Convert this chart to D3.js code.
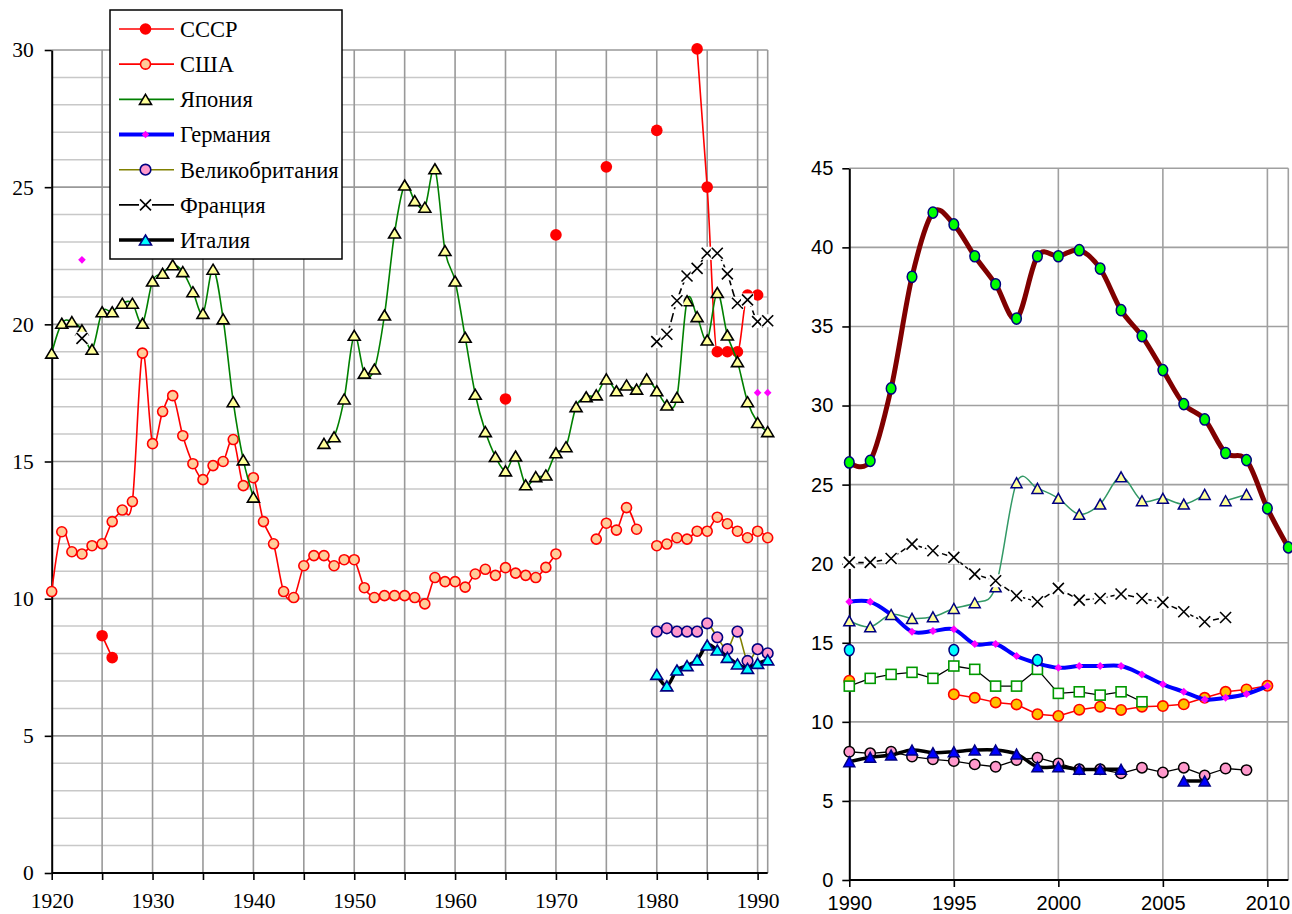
<!DOCTYPE html>
<html><head><meta charset="utf-8">
<script src="https://cdn.jsdelivr.net/npm/d3@7"></script>
<style>body{margin:0;background:#fff} svg{display:block}</style>
</head><body>
<svg id="c" width="1292" height="914"></svg>
<script>
// ---------- DATA: left panel (1920–1991) ----------
const ussrL = [[1925,8.65],[1926,7.85],[1965,17.28],[1970,23.26],[1975,25.74],[1980,27.07],
  [1984,30.04],[1985,25.0],[1986,19.0],[1987,19.0],[1988,19.0],[1989,21.07],[1990,21.07]];
const usaL = [[1920,10.26],[1921,12.44],[1922,11.71],[1923,11.63],[1924,11.93],[1925,12.0],[1926,12.81],
  [1927,13.23],[1928,13.54],[1929,18.95],[1930,15.65],[1931,16.82],[1932,17.4],[1933,15.94],[1934,14.92],
  [1935,14.34],[1936,14.85],[1937,15.0],[1938,15.8],[1939,14.12],[1940,14.41],[1941,12.81],[1942,12.0],
  [1943,10.26],[1944,10.04],[1945,11.2],[1946,11.57],[1947,11.57],[1948,11.2],[1949,11.42],[1950,11.42],
  [1951,10.4],[1952,10.04],[1953,10.11],[1954,10.11],[1955,10.11],[1956,10.04],[1957,9.81],[1958,10.77],
  [1959,10.62],[1960,10.62],[1961,10.42],[1962,10.9],[1963,11.07],[1964,10.85],[1965,11.13],[1966,10.93],
  [1967,10.85],[1968,10.77],[1969,11.14],[1970,11.63],
  [1974,12.17],[1975,12.75],[1976,12.5],[1977,13.32],[1978,12.53],
  [1980,11.93],[1981,11.99],[1982,12.22],[1983,12.17],[1984,12.46],[1985,12.46],[1986,12.97],[1987,12.73],
  [1988,12.46],[1989,12.22],[1990,12.46],[1991,12.22]];
const japanL = [[1920,18.95],[1921,20.04],[1922,20.1],[1923,19.8],[1924,19.09],[1925,20.46],[1926,20.46],
  [1927,20.77],[1928,20.77],[1929,20.04],[1930,21.58],[1931,21.86],[1932,22.17],[1933,21.92],[1934,21.19],
  [1935,20.4],[1936,22.01],[1937,20.2],[1938,17.18],[1939,15.06],[1940,13.7],
  [1947,15.66],[1948,15.9],[1949,17.28],[1950,19.6],[1951,18.22],[1952,18.37],[1953,20.34],[1954,23.33],
  [1955,25.08],[1956,24.51],[1957,24.27],[1958,25.67],[1959,22.69],[1960,21.58],[1961,19.53],[1962,17.45],
  [1963,16.09],[1964,15.18],[1965,14.66],[1966,15.2],[1967,14.15],[1968,14.45],[1969,14.51],[1970,15.32],
  [1971,15.54],[1972,17.0],[1973,17.36],[1974,17.43],[1975,18.01],[1976,17.58],[1977,17.79],[1978,17.64],
  [1979,18.01],[1980,17.58],[1981,17.06],[1982,17.34],[1983,20.86],[1984,20.28],[1985,19.43],[1986,21.16],
  [1987,19.61],[1988,18.64],[1989,17.18],[1990,16.42],[1991,16.09]];
const germanyL = [[1923,22.35],[1990,17.51],[1991,17.51]];
const ukL = [[1980,8.8],[1981,8.92],[1982,8.8],[1983,8.8],[1984,8.8],[1985,9.1],[1986,8.59],[1987,8.16],
  [1988,8.8],[1989,7.73],[1990,8.16],[1991,8.01]];
const franceL = [[1923,19.49],[1980,19.37],[1981,19.64],[1982,20.86],[1983,21.76],[1984,22.04],[1985,22.59],
  [1986,22.59],[1987,21.84],[1988,20.77],[1989,20.89],[1990,20.1],[1991,20.13]];
const italyL = [[1980,7.24],[1981,6.82],[1982,7.4],[1983,7.56],[1984,7.77],[1985,8.31],[1986,8.13],
  [1987,7.86],[1988,7.62],[1989,7.46],[1990,7.64],[1991,7.77]];

// ---------- DATA: right panel (1990–2011) ----------
const redR = [[1990,26.4],[1991,26.5],[1992,31.08],[1993,38.14],[1994,42.2],[1995,41.45],[1996,39.44],
  [1997,37.67],[1998,35.5],[1999,39.44],[2000,39.44],[2001,39.82],[2002,38.66],[2003,36.03],[2004,34.39],
  [2005,32.24],[2006,30.09],[2007,29.12],[2008,27.0],[2009,26.55],[2010,23.5],[2011,21.03]];
const japanR = [[1990,16.39],[1991,16.01],[1992,16.79],[1993,16.54],[1994,16.64],[1995,17.17],[1996,17.53],
  [1997,18.54],[1998,25.12],[1999,24.76],[2000,24.13],[2001,23.12],[2002,23.77],[2003,25.49],[2004,23.98],
  [2005,24.13],[2006,23.77],[2007,24.38],[2008,23.98],[2009,24.38]];
const japanRBreaks = [2007];
const franceR = [[1990,20.08],[1991,20.08],[1992,20.33],[1993,21.24],[1994,20.82],[1995,20.4],[1996,19.34],
  [1997,18.92],[1998,17.97],[1999,17.59],[2000,18.44],[2001,17.7],[2002,17.8],[2003,18.08],[2004,17.8],
  [2005,17.55],[2006,16.96],[2007,16.33],[2008,16.6]];
const germanyR = [[1990,17.59],[1991,17.59],[1992,16.79],[1993,15.7],[1994,15.74],[1995,15.85],[1996,14.92],
  [1997,14.92],[1998,14.16],[1999,13.7],[2000,13.42],[2001,13.53],[2002,13.53],[2003,13.53],[2004,13.0],
  [2005,12.37],[2006,11.9],[2007,11.42],[2008,11.52],[2009,11.76],[2010,12.26]];
const cyanR = [[1990,14.54],[1995,14.54],[1999,13.9]];
const squaresR = [[1990,12.26],[1991,12.75],[1992,13.0],[1993,13.13],[1994,12.75],[1995,13.53],[1996,13.32],
  [1997,12.26],[1998,12.26],[1999,13.32],[2000,11.8],[2001,11.9],[2002,11.69],[2003,11.9],[2004,11.27]];
const usaR = [[1990,12.6],[1995,11.74],[1996,11.52],[1997,11.23],[1998,11.1],[1999,10.48],[2000,10.37],
  [2001,10.77],[2002,10.96],[2003,10.75],[2004,10.96],[2005,11.0],[2006,11.11],[2007,11.52],[2008,11.9],
  [2009,12.05],[2010,12.28]];
const pinkR = [[1990,8.11],[1991,8.01],[1992,8.11],[1993,7.8],[1994,7.63],[1995,7.52],[1996,7.31],[1997,7.16],
  [1998,7.58],[1999,7.73],[2000,7.37],[2001,7.0],[2002,7.0],[2003,6.74],[2004,7.1],[2005,6.8],[2006,7.1],
  [2007,6.61],[2008,7.05],[2009,6.95]];
const italyR = [[1990,7.48],[1991,7.76],[1992,7.9],[1993,8.22],[1994,8.05],[1995,8.11],[1996,8.22],[1997,8.22],
  [1998,7.96],[1999,7.16],[2000,7.16],[2001,7.0],[2002,7.0],[2003,7.0],[2006,6.26],[2007,6.26]];

// ---------- tick labels ----------
const leftYTicks = [0,5,10,15,20,25,30];
const leftXLabels = [1920,1930,1940,1950,1960,1970,1980,1990];
const rightYTicks = [0,5,10,15,20,25,30,35,40,45];
const rightXLabels = [1990,1995,2000,2005,2010];
const legendNames = ["СССР","США","Япония","Германия","Великобритания","Франция","Италия"];

// ---------- drawing ----------
const svg = d3.select("#c");
const serif = "'Liberation Serif','Times New Roman',serif";
const sans = "'Liberation Sans',Arial,sans-serif";

const xL = d3.scaleLinear().domain([1920,1991]).range([51.7,767.7]);
const yL = d3.scaleLinear().domain([0,30]).range([873,50]);
const xR = d3.scaleLinear().domain([1990,2011]).range([849.3,1288.3]);
const yR = d3.scaleLinear().domain([0,45]).range([880,168.3]);

function segments(pts, breaks) {
  breaks = breaks || [];
  const segs = []; let cur = [];
  pts.forEach((p,i) => {
    if (i > 0) {
      const prev = pts[i-1];
      if (p[0]-prev[0] > 1 || breaks.includes(prev[0])) { segs.push(cur); cur = []; }
    }
    cur.push(p);
  });
  if (cur.length) segs.push(cur);
  return segs;
}

function marker(g, m, x, y) {
  const t = m.type;
  if (t === "circle") {
    g.append("ellipse").attr("cx",x).attr("cy",y).attr("rx",m.rx||m.r).attr("ry",m.ry||m.r)
      .attr("fill",m.fill).attr("stroke",m.stroke||"none").attr("stroke-width",m.sw||1.5);
  } else if (t === "tri") {
    const w = m.w/2, h = m.h/2;
    g.append("path").attr("d",`M${x},${y-h}L${x+w},${y+h}L${x-w},${y+h}Z`)
      .attr("fill",m.fill).attr("stroke",m.stroke).attr("stroke-width",m.sw||1.5).attr("stroke-linejoin","miter");
  } else if (t === "diamond") {
    const s = m.s;
    g.append("path").attr("d",`M${x},${y-s}L${x+s},${y}L${x},${y+s}L${x-s},${y}Z`).attr("fill",m.fill);
  } else if (t === "square") {
    const s = m.s/2;
    g.append("rect").attr("x",x-s).attr("y",y-s).attr("width",2*s).attr("height",2*s)
      .attr("fill",m.fill).attr("stroke",m.stroke).attr("stroke-width",m.sw||1.5);
  } else if (t === "x") {
    const s = m.s/2;
    g.append("rect").attr("x",x-s-1).attr("y",y-s-1).attr("width",2*s+2).attr("height",2*s+2).attr("fill","#fff");
    g.append("path").attr("d",`M${x-s},${y-s}L${x+s},${y+s}M${x-s},${y+s}L${x+s},${y-s}`)
      .attr("stroke",m.stroke||"#000").attr("stroke-width",m.sw||1.6).attr("fill","none");
  }
}

function drawSeries(g, xs, ys, data, st) {
  const curve = st.smooth === "mono" ? d3.curveMonotoneX : (st.smooth ? d3.curveCardinal.tension(0) : d3.curveLinear);
  const line = d3.line().x(d=>xs(d[0])).y(d=>ys(d[1])).curve(curve);
  if (st.line) {
    segments(data, st.breaks).forEach(seg => {
      if (seg.length < 2) return;
      g.append("path").attr("d", line(seg)).attr("fill","none").attr("stroke",st.line)
        .attr("stroke-width",st.lw).attr("stroke-dasharray",st.dash||null).attr("stroke-linejoin","round");
    });
  }
  data.forEach(d => marker(g, st.m, xs(d[0]), ys(d[1])));
}

// ---- styles ----
const stUSSR = {line:"#ff0000", lw:1.6, smooth:"mono", m:{type:"circle", r:5.8, fill:"#ff0000"}};
const stUSA = {line:"#ff0000", lw:1.6, smooth:true, m:{type:"circle", r:5, fill:"#ffcc99", stroke:"#ff0000", sw:1.6}};
const stJapan = {line:"#008000", lw:1.6, smooth:true, m:{type:"tri", w:12, h:10, fill:"#ffff99", stroke:"#000", sw:1.6}};
const stGermanyL = {line:null, m:{type:"diamond", s:3.8, fill:"#ff00ff"}};
const stGermanyLeg = {line:"#0000ff", lw:4, m:{type:"diamond", s:3.8, fill:"#ff00ff"}};
const stUK = {line:"#808000", lw:1.6, smooth:true, m:{type:"circle", r:5.3, fill:"#ff99cc", stroke:"#000080", sw:1.6}};
const stFrance = {line:"#000", lw:1.6, smooth:true, dash:"9,4", m:{type:"x", s:11, stroke:"#000", sw:1.6}};
const stItaly = {line:"#000", lw:3.5, smooth:true, m:{type:"tri", w:12, h:10, fill:"#00ffff", stroke:"#000080", sw:1.6}};

// ---------- LEFT PANEL ----------
const gl = svg.append("g");
d3.range(1,30).filter(v=>v%5!==0).forEach(v=>{
  gl.append("line").attr("x1",xL(1920)).attr("x2",xL(1991)).attr("y1",yL(v)).attr("y2",yL(v))
    .attr("stroke","#c8c8c8").attr("stroke-width",1.5);
});
leftYTicks.filter(v=>v>0).forEach(v=>{
  gl.append("line").attr("x1",xL(1920)).attr("x2",xL(1991)).attr("y1",yL(v)).attr("y2",yL(v))
    .attr("stroke","#999").attr("stroke-width",1.6);
});
d3.range(1925,1991,5).concat([1991]).forEach(yr=>{
  gl.append("line").attr("x1",xL(yr)).attr("x2",xL(yr)).attr("y1",yL(0)).attr("y2",yL(30))
    .attr("stroke","#999").attr("stroke-width",1.6);
});
const axL = gl.append("g").attr("transform",`translate(${xL(1920)},0)`)
  .call(d3.axisLeft(yL).tickValues(leftYTicks).tickSize(7).tickSizeOuter(0).tickPadding(11));
const axB = gl.append("g").attr("transform",`translate(0,${yL(0)})`)
  .call(d3.axisBottom(xL).tickValues(d3.range(1920,1991,5)).tickSize(7).tickSizeOuter(0).tickPadding(13)
    .tickFormat(d => leftXLabels.includes(d) ? String(d) : ""));
[axL, axB].forEach(a=>{
  a.select(".domain").attr("stroke","#000").attr("stroke-width",2);
  a.selectAll(".tick line").attr("stroke","#000").attr("stroke-width",1.6);
  a.selectAll("text").attr("font-family",serif).attr("font-size",21.5).attr("fill","#000");
});
axB.select(".domain").attr("d",`M${xL(1920)},0H${xL(1991)}`);

drawSeries(gl, xL, yL, ussrL, stUSSR);
drawSeries(gl, xL, yL, usaL, stUSA);
drawSeries(gl, xL, yL, japanL, stJapan);
drawSeries(gl, xL, yL, germanyL, stGermanyL);
drawSeries(gl, xL, yL, ukL, stUK);
drawSeries(gl, xL, yL, franceL, stFrance);
drawSeries(gl, xL, yL, italyL, stItaly);

// legend
const leg = svg.append("g");
leg.append("rect").attr("x",110).attr("y",10).attr("width",232).attr("height",249)
  .attr("fill","#fff").attr("stroke","#000").attr("stroke-width",1.5);
const legStyles = [stUSSR, stUSA, stJapan, stGermanyLeg, stUK, stFrance, stItaly];
legendNames.forEach((name,i)=>{
  const cy = 29 + i*35.17;
  const st = legStyles[i];
  leg.append("line").attr("x1",119).attr("x2",174).attr("y1",cy).attr("y2",cy)
    .attr("stroke",st.line).attr("stroke-width",st.lw);
  marker(leg, st.m, 145.5, cy);
  leg.append("text").attr("x",180).attr("y",cy).attr("dy","0.35em").text(name)
    .attr("font-family",serif).attr("font-size",22.5).attr("fill","#000");
});

// ---------- RIGHT PANEL ----------
const gr = svg.append("g");
rightYTicks.filter(v=>v>0).forEach(v=>{
  gr.append("line").attr("x1",xR(1990)).attr("x2",xR(2011)).attr("y1",yR(v)).attr("y2",yR(v))
    .attr("stroke","#a0a0a0").attr("stroke-width",1.6);
});
[1995,2000,2005,2010,2011].forEach(yr=>{
  gr.append("line").attr("x1",xR(yr)).attr("x2",xR(yr)).attr("y1",yR(0)).attr("y2",yR(45))
    .attr("stroke","#a0a0a0").attr("stroke-width",1.6);
});
const axRL = gr.append("g").attr("transform",`translate(${xR(1990)},0)`)
  .call(d3.axisLeft(yR).tickValues(rightYTicks).tickSize(7).tickSizeOuter(0).tickPadding(9));
const axRB = gr.append("g").attr("transform",`translate(0,${yR(0)})`)
  .call(d3.axisBottom(xR).tickValues(rightXLabels).tickSize(7).tickSizeOuter(0).tickPadding(9)
    .tickFormat(d => String(d)));
[axRL, axRB].forEach(a=>{
  a.select(".domain").attr("stroke","#000").attr("stroke-width",2);
  a.selectAll(".tick line").attr("stroke","#000").attr("stroke-width",1.6);
  a.selectAll("text").attr("font-family",sans).attr("font-size",20).attr("fill","#000");
});
axRB.select(".domain").attr("d",`M${xR(1990)},0H${xR(2011)}`);

drawSeries(gr, xR, yR, pinkR, {line:"#000", lw:1.3, m:{type:"circle", r:5.2, fill:"#ff99cc", stroke:"#000", sw:1.5}});
drawSeries(gr, xR, yR, italyR, {line:"#000", lw:3.5, smooth:true, m:{type:"tri", w:11, h:10, fill:"#0000ff", stroke:"#000080", sw:1.5}});
drawSeries(gr, xR, yR, usaR, {line:"#ff0000", lw:1.5, m:{type:"circle", r:5.2, fill:"#ffc000", stroke:"#ff0000", sw:1.6}});
drawSeries(gr, xR, yR, squaresR, {line:"#000", lw:1.3, m:{type:"square", s:10, fill:"#fff", stroke:"#009900", sw:1.6}});
drawSeries(gr, xR, yR, germanyR, {line:"#0000ff", lw:4, smooth:true, m:{type:"diamond", s:4, fill:"#ff00ff"}});
drawSeries(gr, xR, yR, cyanR, {line:null, m:{type:"circle", rx:4.8, ry:5.6, fill:"#00ffff", stroke:"#000080", sw:1.5}});
drawSeries(gr, xR, yR, japanR, {line:"#339966", lw:1.5, smooth:true, breaks:japanRBreaks, m:{type:"tri", w:11, h:10, fill:"#ffff99", stroke:"#000080", sw:1.5}});
drawSeries(gr, xR, yR, franceR, {line:"#000", lw:1.5, dash:"6,3", m:{type:"x", s:11, stroke:"#000", sw:1.6}});
drawSeries(gr, xR, yR, redR, {line:"#800000", lw:5, smooth:true, m:{type:"circle", rx:4.8, ry:5.6, fill:"#00ff00", stroke:"#000080", sw:1.5}});
</script>
</body></html>
